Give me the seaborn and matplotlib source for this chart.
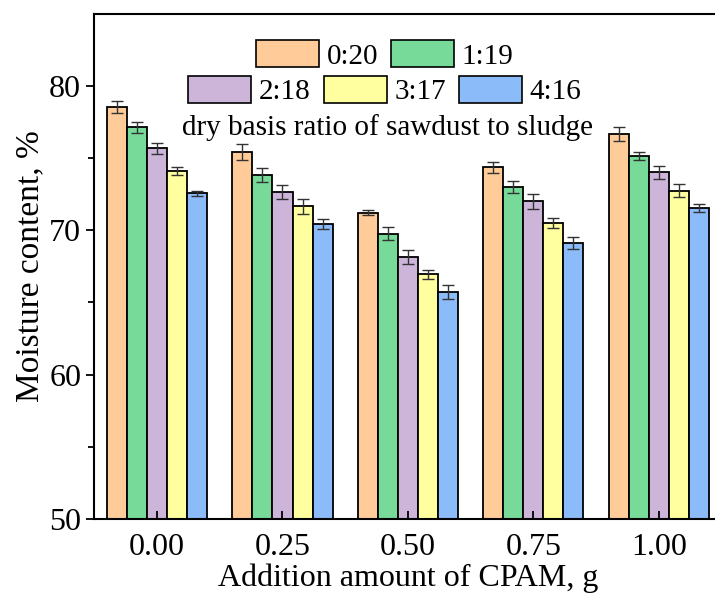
import pandas as pd
import numpy as np
import matplotlib
matplotlib.use("Agg")
import matplotlib.pyplot as plt
from matplotlib.patches import Patch
import seaborn as sns

# CPAM addition (g) and sawdust:sludge ratios
amounts = ['0.00', '0.25', '0.50', '0.75', '1.00']
ratios = ['0:20', '1:19', '2:18', '3:17', '4:16']

# mean moisture content (%) per ratio, one value per CPAM amount
moist_0_20 = [78.55, 75.43, 71.23, 74.37, 76.67]
moist_1_19 = [77.14, 73.83, 69.77, 73.00, 75.15]
moist_2_18 = [75.68, 72.65, 68.15, 72.01, 74.02]
moist_3_17 = [74.14, 71.66, 66.95, 70.51, 72.75]
moist_4_16 = [72.56, 70.44, 65.75, 69.15, 71.55]

# error bar half-widths
err_0_20 = [0.42, 0.53, 0.18, 0.39, 0.49]
err_1_19 = [0.40, 0.48, 0.46, 0.44, 0.25]
err_2_18 = [0.37, 0.50, 0.48, 0.50, 0.46]
err_3_17 = [0.27, 0.50, 0.33, 0.37, 0.46]
err_4_16 = [0.15, 0.35, 0.49, 0.41, 0.30]

colors = ['#FFCC99', '#77DA98', '#CDB5DA', '#FFFFA0', '#8BBBF8']

means = [moist_0_20, moist_1_19, moist_2_18, moist_3_17, moist_4_16]
errs = [err_0_20, err_1_19, err_2_18, err_3_17, err_4_16]

rows = []
for r, m, e in zip(ratios, means, errs):
    for a, v, s in zip(amounts, m, e):
        rows.append({'CPAM': a, 'Ratio': r, 'Moisture': v, 'Err': s})
df = pd.DataFrame(rows)

plt.rcParams['font.family'] = ['Liberation Serif', 'DejaVu Serif']
plt.rcParams['mathtext.fontset'] = 'stix'

fig = plt.figure(figsize=(7.15, 5.97), dpi=100)
ax = fig.add_axes([0.132, 0.131, 0.877, 0.8455])

sns.barplot(data=df, x='CPAM', y='Moisture', hue='Ratio', order=amounts,
            hue_order=ratios, palette=colors, saturation=1, errorbar=None,
            width=0.8, edgecolor='black', linewidth=1.3, legend=False, ax=ax)

# custom error bars on top of each bar
bars = [p for p in ax.patches if p.get_height() > 0]
for i, p in enumerate(bars[:len(df)]):
    h = i // len(amounts)
    g = i % len(amounts)
    xc = p.get_x() + p.get_width() / 2
    ax.errorbar(xc, p.get_height(), yerr=errs[h][g], color='#333333',
                elinewidth=1, capsize=4, capthick=1)

ax.set_ylim(50, 85)
ax.set_xlim(-0.5, 4.5)
ax.set_yticks([50, 60, 70, 80])
ax.set_yticks([55, 65, 75], minor=True)
ax.tick_params(axis='y', which='major', direction='out', length=6, width=1.3, labelsize=23)
ax.tick_params(axis='y', which='minor', direction='out', length=4, width=1.3)
ax.tick_params(axis='x', direction='in', length=6, width=1.3, labelsize=23, pad=10)
for s in ax.spines.values():
    s.set_linewidth(1.5)

ax.set_xlabel('Addition amount of CPAM, g', fontsize=23, labelpad=1)
ax.set_ylabel('Moisture content, %', fontsize=24, labelpad=3)

# legend in two centred rows plus a caption line
hs = [Patch(facecolor=c, edgecolor='black', linewidth=1.2) for c in colors]
leg_kw = dict(frameon=False, fontsize=21, handlelength=2.16, handleheight=1.06,
              handletextpad=0.26, columnspacing=0.45, borderpad=0, loc='center')
leg1 = ax.legend(hs[:2], ratios[:2], ncol=2, bbox_to_anchor=(0.463, 0.919), **leg_kw)
ax.add_artist(leg1)
ax.legend(hs[2:], ratios[2:], ncol=3, bbox_to_anchor=(0.463, 0.8485), **leg_kw)
ax.text(0.468, 0.776, 'dry basis ratio of sawdust to sludge', transform=ax.transAxes,
        ha='center', va='center', fontsize=21)

fig.savefig('out.png', dpi=100)
